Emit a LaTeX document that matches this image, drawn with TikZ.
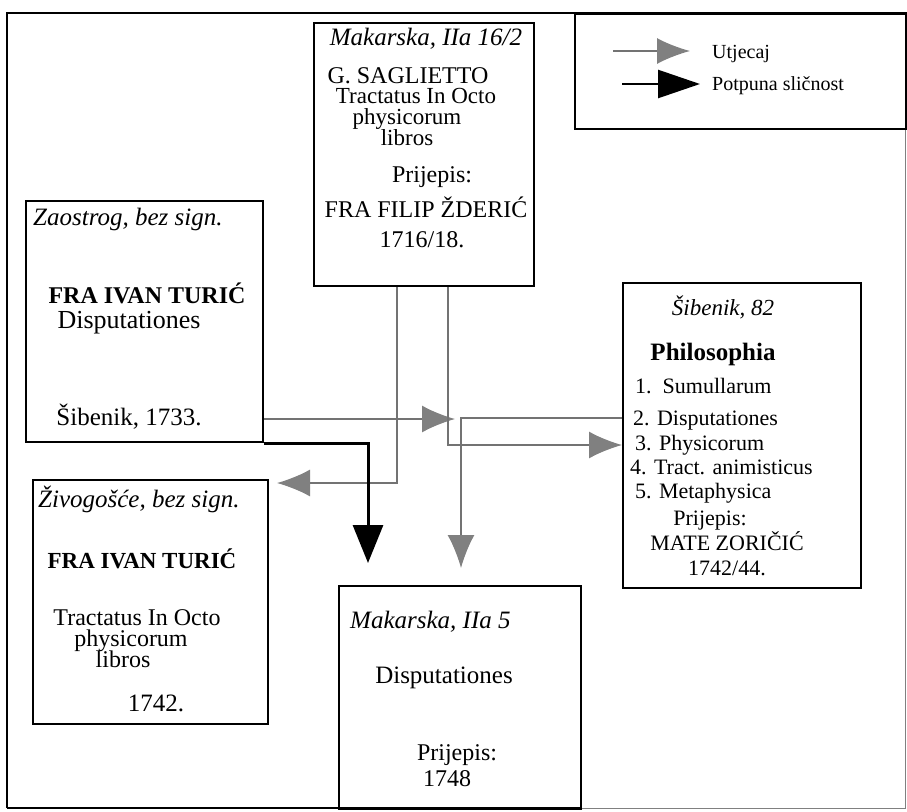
\documentclass[tikz,border=0pt]{standalone}
\usepackage{fontspec}
\setmainfont{Liberation Serif}
\usetikzlibrary{arrows.meta}
\definecolor{inflgray}{gray}{0.45}
\definecolor{headgray}{gray}{0.5}
\begin{document}
\begin{tikzpicture}[x=1pt,y=-1pt,
  frame/.style={line width=2pt},
  box/.style={draw,line width=2pt,inner sep=0pt,anchor=north west},
  tx/.style={inner sep=0pt,anchor=base},
  tl/.style={inner sep=0pt,anchor=base west},
  fs/.style={font=\fontsize{#1}{#1}\selectfont},
  fi/.style={font=\fontsize{#1}{#1}\selectfont\itshape},
  fb/.style={font=\fontsize{#1}{#1}\selectfont\bfseries},
  infl/.style={draw=inflgray,line width=1.5pt,-{Latex[length=33pt,width=27pt,color=headgray,fill=headgray]}},
  sim/.style={draw=black,line width=3pt,-{Triangle[length=38pt,width=30pt]}},
]
\useasboundingbox (0,0) rectangle (907,811);
% outer frame
\draw[frame] (7,808) -- (7,13) -- (907,13);
\draw[frame] (7,808) -- (580,808);
\draw[draw=gray,line width=1pt] (580,808) -- (905,808) -- (905,13);

% legend
\node[box,minimum width=331pt,minimum height=115pt] (legend) at (574,13) {};
\node[tl,fs=20] (lg1) at (712,58) {Utjecaj};
\node[tl,fs=20] (lg2) at (712,90) {Potpuna sličnost};
\coordinate (la1) at (613,51);
\coordinate (la2) at (690,51);
\coordinate (lb1) at (622,84);
\coordinate (lb2) at (700,84);
\draw[infl,-{Latex[length=33pt,width=26pt,color=headgray,fill=headgray]}] (la1) -- (la2);
\draw[sim,line width=2.5pt,-{Triangle[length=42pt,width=28pt]}] (lb1) -- (lb2);

% Makarska IIa 16/2
\node[box,minimum width=220pt,minimum height=263pt] (mk16) at (313,22) {};
\node[tx,fi=25] (m16a) at (426,45) {Makarska, IIa 16/2};
\node[tx,fs=24] (m16b) at (408,83) {G. SAGLIETTO};
\node[tx,fs=23] (m16c) at (416,103) {Tractatus In Octo};
\node[tx,fs=23] (m16d) at (407,124) {physicorum};
\node[tx,fs=23] (m16e) at (407,145) {libros};
\node[tx,fs=24] (m16f) at (432,182) {Prijepis:};
\node[tx,fs=24] (m16g) at (426,217) {FRA FILIP ŽDERIĆ};
\node[tx,fs=24] (m16h) at (422,247) {1716/18.};

% Zaostrog
\node[box,minimum width=237pt,minimum height=241pt] (zao) at (25,200) {};
\node[tl,fi=25] (zaa) at (33,225) {Zaostrog, bez sign.};
\node[tx,fb=24] (zab) at (147,303) {FRA IVAN TURIĆ};
\node[tx,fs=26] (zac) at (129,328) {Disputationes};
\node[tx,fs=25] (zad) at (129,425) {Šibenik, 1733.};

% Zivogosce
\node[box,minimum width=235pt,minimum height=244pt] (zivo) at (32,479) {};
\node[tl,fi=25] (zia) at (38,507) {Živogošće, bez sign.};
\node[tx,fb=23] (zib) at (142,568) {FRA IVAN TURIĆ};
\node[tx,fs=24] (zic) at (137,625) {Tractatus In Octo};
\node[tx,fs=24] (zid) at (131,646) {physicorum};
\node[tx,fs=24] (zie) at (123,667) {libros};
\node[tx,fs=25] (zif) at (156,711) {1742.};

% Makarska IIa 5
\node[box,minimum width=242pt,minimum height=223pt] (mk5) at (338,585) {};
\node[tl,fi=25] (m5a) at (350,628) {Makarska, IIa 5};
\node[tx,fs=25] (m5b) at (444,683) {Disputationes};
\node[tx,fs=24] (m5c) at (457,760) {Prijepis:};
\node[tx,fs=24] (m5d) at (447,786) {1748};

% Sibenik, 82
\node[box,minimum width=238pt,minimum height=305pt] (sib) at (622,282) {};
\node[tx,fi=23] (sa) at (723,315) {Šibenik, 82};
\node[tx,fb=25] (sb) at (713,360) {Philosophia};
\node[tl,fs=22] (s1) at (635,393) {1.\ \ Sumullarum};
\node[tl,fs=22] (s2) at (633,425) {2. Disputationes};
\node[tl,fs=22] (s3) at (635,450) {3. Physicorum};
\node[tl,fs=22] (s4) at (630,474) {4. Tract. animisticus};
\node[tl,fs=22] (s5) at (635,498) {5. Metaphysica};
\node[tx,fs=22] (s6) at (710,525) {Prijepis:};
\node[tx,fs=22] (s7) at (727,550) {MATE ZORIČIĆ};
\node[tx,fs=22] (s8) at (727,575) {1742/44.};

% connectors
\coordinate (j1) at (455,419);
\draw[infl] (zao.east |- 0,419) -- (j1);
\draw[infl] (397,0 |- mk16.south) |- ([shift={(8,4)}]zivo.north east);
\draw[infl] (448,0 |- mk16.south) |- (sib.west |- 0,445);
\draw[infl] (sib.west |- 0,418) -| ([shift={(123,-17)}]mk5.north west);
\draw[sim] (zao.south east) -| ([shift={(30,-22)}]mk5.north west);
\end{tikzpicture}
\end{document}
